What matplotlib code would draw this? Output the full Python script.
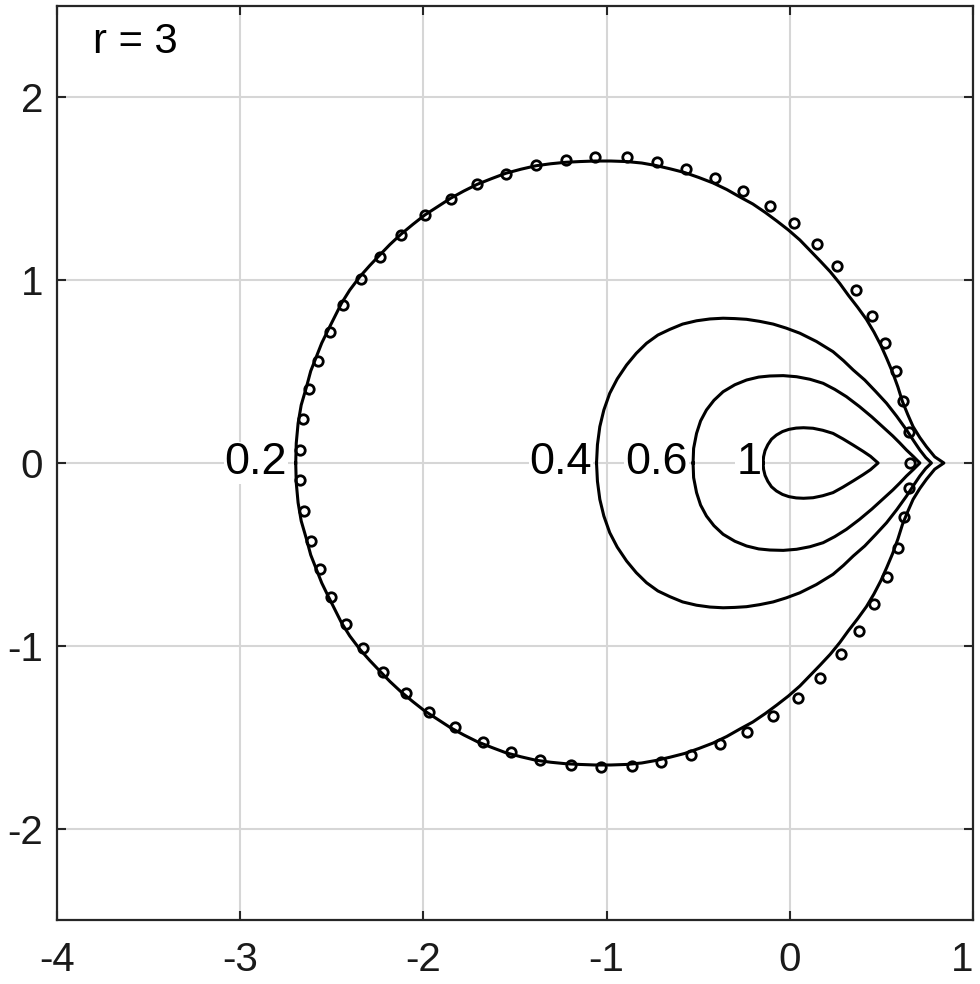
import matplotlib
matplotlib.use("Agg")
import matplotlib.pyplot as plt

plt.rcParams['font.family'] = ['Liberation Sans', 'DejaVu Sans']
plt.rcParams['axes.unicode_minus'] = False

# ---- contour levels (upper halves; the curves are symmetric about y = 0) ----
levels = ["0.2", "0.4", "0.6", "1"]

c02_x = [-2.697, -2.694, -2.684, -2.667, -2.638, -2.615, -2.584, -2.555, -2.520, -2.447,
         -2.402, -2.347, -2.293, -2.238, -2.183, -2.123, -2.058, -1.992, -1.921, -1.852,
         -1.779, -1.705, -1.627, -1.550, -1.468, -1.386, -1.305, -1.224, -1.146, -1.064,
         -0.977, -0.890, -0.808, -0.729, -0.652, -0.574, -0.497, -0.419, -0.344, -0.272,
         -0.202, -0.133, -0.071, -0.008, 0.055, 0.111, 0.166, 0.221, 0.273, 0.320,
         0.371, 0.418, 0.459, 0.497, 0.529, 0.561, 0.590, 0.615, 0.644, 0.673,
         0.710, 0.746, 0.791, 0.841]
c02_y = [0.000, 0.109, 0.217, 0.317, 0.417, 0.503, 0.582, 0.656, 0.728, 0.874,
         0.946, 1.019, 1.080, 1.138, 1.195, 1.251, 1.305, 1.357, 1.403, 1.448,
         1.488, 1.525, 1.556, 1.585, 1.607, 1.626, 1.637, 1.645, 1.649, 1.652,
         1.652, 1.649, 1.641, 1.627, 1.609, 1.589, 1.562, 1.532, 1.496, 1.455,
         1.417, 1.370, 1.324, 1.275, 1.220, 1.162, 1.105, 1.046, 0.982, 0.917,
         0.851, 0.786, 0.717, 0.644, 0.572, 0.496, 0.416, 0.336, 0.265, 0.199,
         0.139, 0.089, 0.034, 0.000]

c04_x = [-1.055, -1.050, -1.037, -1.015, -0.983, -0.942, -0.891, -0.838, -0.782, -0.720,
         -0.655, -0.585, -0.509, -0.436, -0.364, -0.300, -0.236, -0.165, -0.091, -0.020,
         0.055, 0.145, 0.236, 0.293, 0.346, 0.409, 0.468, 0.528, 0.584, 0.637,
         0.677, 0.710, 0.742, 0.773]
c04_y = [0.000, 0.100, 0.199, 0.290, 0.381, 0.460, 0.536, 0.600, 0.655, 0.700,
         0.731, 0.760, 0.778, 0.788, 0.792, 0.790, 0.786, 0.775, 0.760, 0.738,
         0.710, 0.665, 0.609, 0.560, 0.509, 0.454, 0.392, 0.327, 0.255, 0.181,
         0.120, 0.071, 0.030, 0.000]

c06_x = [-0.528, -0.525, -0.509, -0.487, -0.455, -0.414, -0.364, -0.300, -0.236, -0.170,
         -0.109, -0.036, 0.037, 0.110, 0.182, 0.245, 0.309, 0.380, 0.448, 0.505,
         0.562, 0.600, 0.637, 0.675, 0.710]
c06_y = [0.000, 0.080, 0.162, 0.230, 0.290, 0.343, 0.390, 0.428, 0.454, 0.470,
         0.476, 0.478, 0.472, 0.458, 0.436, 0.403, 0.363, 0.309, 0.252, 0.200,
         0.148, 0.110, 0.071, 0.035, 0.000]

c1_x = [-0.146, -0.143, -0.135, -0.120, -0.100, -0.073, -0.040, -0.005, 0.035, 0.075,
        0.127, 0.180, 0.236, 0.290, 0.346, 0.400, 0.440, 0.482]
c1_y = [0.000, 0.035, 0.068, 0.100, 0.130, 0.153, 0.172, 0.184, 0.191, 0.193,
        0.190, 0.179, 0.162, 0.132, 0.098, 0.064, 0.037, 0.000]

# label positions (centre x of each label, on y = 0)
label_x = [-2.915, -1.250, -0.728, -0.224]

# ---- marker points ----
mk_upper_x = [-2.671, -2.657, -2.624, -2.575, -2.511, -2.438, -2.342, -2.238, -2.123, -1.992,
              -1.852, -1.705, -1.550, -1.386, -1.224, -1.063, -0.891, -0.724, -0.568, -0.409,
              -0.255, -0.109, 0.023, 0.147, 0.260, 0.360, 0.451, 0.522, 0.579, 0.620,
              0.648, 0.655]
mk_upper_y = [0.071, 0.239, 0.403, 0.560, 0.715, 0.864, 1.005, 1.129, 1.247, 1.355,
              1.446, 1.525, 1.583, 1.632, 1.658, 1.676, 1.672, 1.648, 1.610, 1.557,
              1.490, 1.408, 1.313, 1.200, 1.079, 0.945, 0.804, 0.655, 0.502, 0.338,
              0.171, 0.000]
mk_lower_x = [0.648, 0.622, 0.588, 0.528, 0.460, 0.377, 0.282, 0.167, 0.045, -0.091,
              -0.231, -0.382, -0.540, -0.704, -0.864, -1.030, -1.197, -1.365, -1.523, -1.677,
              -1.829, -1.969, -2.096, -2.220, -2.329, -2.424, -2.502, -2.562, -2.615, -2.651,
              -2.671]
mk_lower_y = [-0.138, -0.297, -0.463, -0.622, -0.771, -0.917, -1.047, -1.176, -1.286, -1.384,
              -1.472, -1.537, -1.596, -1.636, -1.658, -1.663, -1.652, -1.625, -1.583, -1.525,
              -1.446, -1.360, -1.260, -1.143, -1.014, -0.881, -0.735, -0.582, -0.425, -0.261,
              -0.093]

xticks = [-4, -3, -2, -1, 0, 1]
yticks = [-2, -1, 0, 1, 2]
title_text = "r = 3"

fig = plt.figure(figsize=(9.8, 9.84), dpi=100)
ax = fig.add_axes([57/980, 64/984, 916/980, 914/984])

curves = [(c02_x, c02_y), (c04_x, c04_y), (c06_x, c06_y), (c1_x, c1_y)]
for (cx, cy), lab, lx in zip(curves, levels, label_x):
    xs = list(cx) + list(cx[::-1])[1:]
    ys = list(cy) + [-v for v in cy[::-1]][1:]
    ax.plot(xs, ys, color='black', lw=2.2, solid_joinstyle='round', zorder=3)
    ax.text(lx, 0.0, lab, fontsize=32.5, ha='center', va='center', zorder=4,
            bbox=dict(facecolor='white', edgecolor='none', pad=0.5))

ax.plot(mk_upper_x + mk_lower_x, mk_upper_y + mk_lower_y, linestyle='none',
        marker='o', ms=6.8, mfc='none', mec='black', mew=2.0, zorder=5)

ax.set_xlim(-4, 1)
ax.set_ylim(-2.5, 2.5)
ax.set_xticks(xticks)
ax.set_yticks(yticks)
ax.set_xticklabels([str(t) for t in xticks])
ax.set_yticklabels([str(t) for t in yticks])
ax.get_xticklabels()[-1].set_horizontalalignment('right')
ax.grid(True, color='#d6d6d6', lw=1.5)
ax.set_axisbelow(True)
ax.tick_params(direction='in', length=6.5, width=1.5, colors='#262626',
               labelsize=29, top=True, right=True, labelcolor='#1a1a1a')
ax.tick_params(axis='x', pad=15)
ax.tick_params(axis='y', pad=10)
for s in ax.spines.values():
    s.set_linewidth(1.6)
    s.set_color('#262626')

ax.text(0.039, 0.961, title_text, transform=ax.transAxes, fontsize=30,
        ha='left', va='center', color='black')

fig.savefig("out.png", dpi=100)
